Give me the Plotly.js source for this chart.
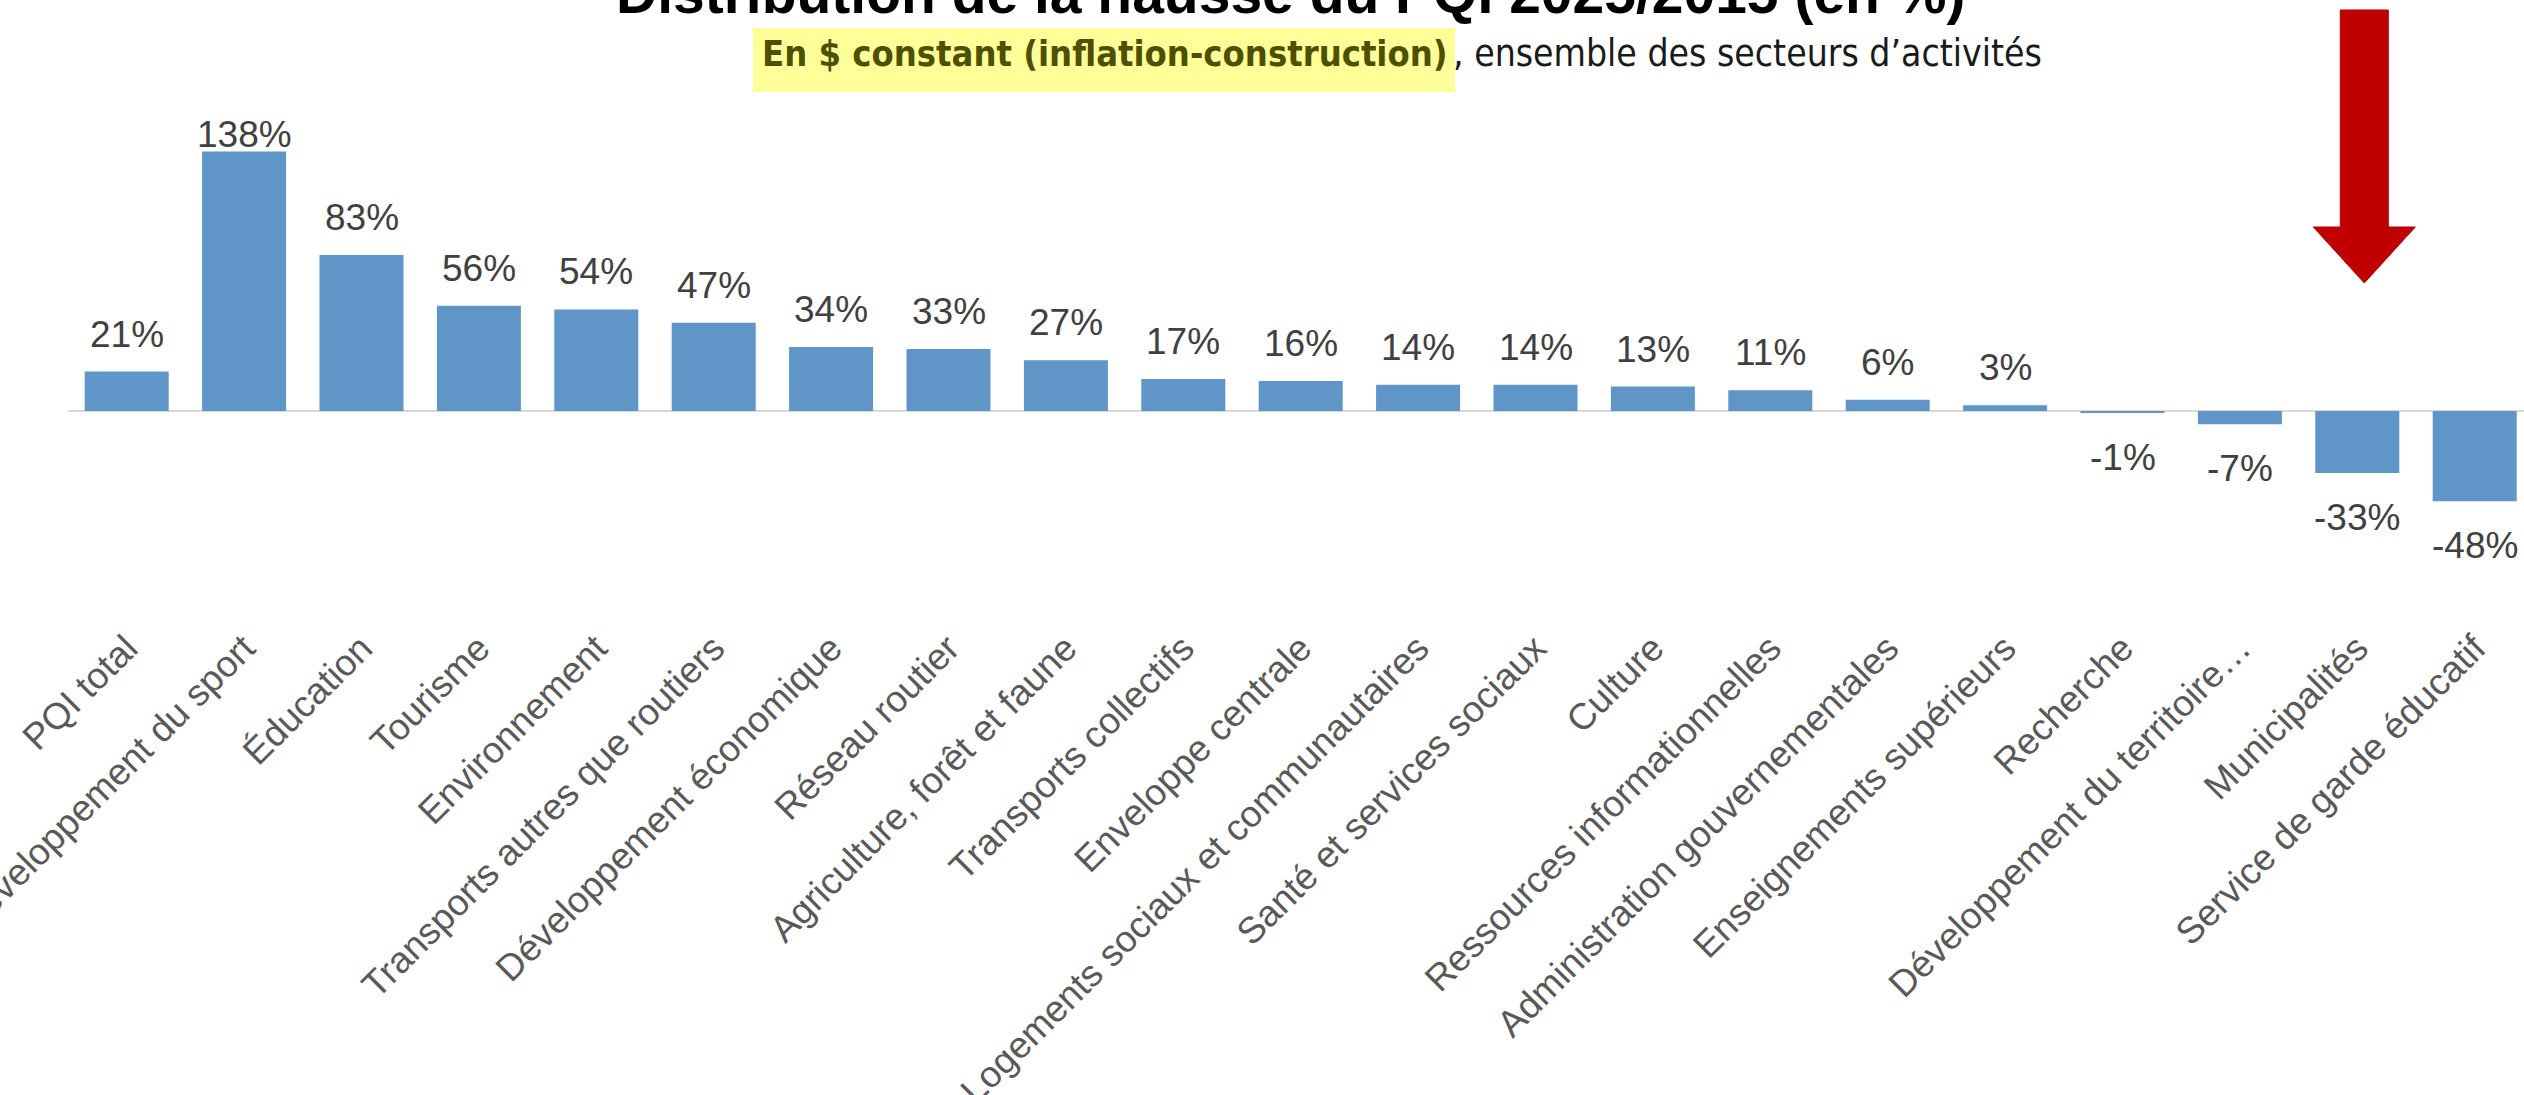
<!DOCTYPE html>
<html>
<head>
<meta charset="utf-8">
<script src="https://cdn.plot.ly/plotly-3.0.1.min.js"></script>
<style>
  html, body { margin: 0; padding: 0; background: #ffffff; }
  #chart { width: 2524px; height: 1095px; }
</style>
</head>
<body>
<div id="chart"></div>
<script>
// ---------- DATA ----------
const categories = [
  "PQI total",
  "Développement du sport",
  "Éducation",
  "Tourisme",
  "Environnement",
  "Transports autres que routiers",
  "Développement économique",
  "Réseau routier",
  "Agriculture, forêt et faune",
  "Transports collectifs",
  "Enveloppe centrale",
  "Logements sociaux et communautaires",
  "Santé et services sociaux",
  "Culture",
  "Ressources informationnelles",
  "Administration gouvernementales",
  "Enseignements supérieurs",
  "Recherche",
  "Développement du territoire…",
  "Municipalités",
  "Service de garde éducatif"
];
const values = [21, 138, 83, 56, 54, 47, 34, 33, 27, 17, 16, 14, 14, 13, 11, 6, 3, -1, -7, -33, -48];
const valueLabels = values.map(v => v + "%");

const titleText = "Distribution de la hausse du PQI 2025/2015 (en %)";
const subtitleBold = "En $ constant (inflation-construction)";
const subtitleRest = ", ensemble des secteurs d’activités";
const highlightedCategory = "Municipalités";

// ---------- LAYOUT GEOMETRY ----------
const W = 2524, H = 1095;
const M = { l: 68, r: 0, t: 100, b: 477 };
const plotW = W - M.l - M.r;
const plotH = H - M.t - M.b;
const catStep = 117.4;                 // px per category
const pxPerUnit = 1.88;                // px per percent
const zeroPx = 411;                    // zero line position (from page top)
const xRange = [-0.5, -0.5 + plotW / catStep];
const yRange = [-(M.t + plotH - zeroPx) / pxPerUnit, (zeroPx - M.t) / pxPerUnit];

const pxToPaperX = px => (px - M.l) / plotW;
const pyToPaperY = py => (M.t + plotH - py) / plotH;

const barColor = "#5F95C7";
const labelColor = "#404040";
const tickColor = "#595959";
const baseFont = "Liberation Sans, Arial, Helvetica, sans-serif";
const narrowFont = "Liberation Sans Narrow, Arial Narrow, DejaVu Sans Condensed, Liberation Sans, Arial, sans-serif";

// ---------- TRACE ----------
const trace = {
  type: "bar",
  x: categories,
  y: values,
  marker: { color: barColor, line: { width: 0 } },
  hoverinfo: "skip",
  cliponaxis: false
};

// ---------- ANNOTATIONS ----------
const annotations = [];
const labelFontSize = 37;
values.forEach((v, i) => {
  if (v >= 0) {
    const barTopPx = zeroPx - v * pxPerUnit;
    const shift = Math.min(15, barTopPx - 45 - 112);
    annotations.push({
      x: categories[i], y: v, xref: "x", yref: "y",
      text: valueLabels[i], showarrow: false,
      yanchor: "bottom", xanchor: "center", yshift: shift,
      font: { family: baseFont, size: labelFontSize, color: labelColor }
    });
  } else {
    annotations.push({
      x: categories[i], y: v, xref: "x", yref: "y",
      text: valueLabels[i], showarrow: false,
      yanchor: "top", xanchor: "center", yshift: -22,
      font: { family: baseFont, size: labelFontSize, color: labelColor }
    });
  }
});

// Title (top partly cut by page edge, as in the reference)
const titleSize = 57;
annotations.push({
  xref: "paper", yref: "paper",
  x: pxToPaperX(1290), y: pyToPaperY(13 - 0.35 * titleSize),
  xanchor: "center", yanchor: "middle",
  text: "<b>" + titleText + "</b>", showarrow: false,
  font: { family: baseFont, size: titleSize, color: "#000000" }
});

// Subtitle (bold highlighted part + regular part)
const subSize = 36;
const subCenterPx = 66 - 0.35 * subSize;
annotations.push({
  xref: "paper", yref: "paper",
  x: pxToPaperX(1450), y: pyToPaperY(subCenterPx),
  xanchor: "right", yanchor: "middle",
  text: "<b>" + subtitleBold + "</b>", showarrow: false,
  font: { family: narrowFont, size: subSize, color: "#4F4F00" }
});
annotations.push({
  xref: "paper", yref: "paper",
  x: pxToPaperX(1451), y: pyToPaperY(subCenterPx),
  xanchor: "left", yanchor: "middle",
  text: subtitleRest, showarrow: false,
  font: { family: narrowFont, size: 37, color: "#1a1a1a" }
});

// ---------- SHAPES ----------
const hiIdx = categories.indexOf(highlightedCategory);
const hiPaperX = (hiIdx - xRange[0]) / (xRange[1] - xRange[0]);
const zeroPaperY = (0 - yRange[0]) / (yRange[1] - yRange[0]);

const shapes = [
  // yellow highlight behind the bold subtitle part
  {
    type: "rect", xref: "paper", yref: "paper", layer: "below",
    x0: pxToPaperX(753), x1: pxToPaperX(1455),
    y0: pyToPaperY(92), y1: pyToPaperY(28),
    fillcolor: "#FFFF99", line: { width: 0 }
  },
  // red block arrow pointing at the highlighted category
  {
    type: "path", xref: "paper", yref: "paper",
    xsizemode: "pixel", ysizemode: "pixel",
    xanchor: hiPaperX, yanchor: zeroPaperY,
    path: "M -17,401 L 31,401 L 31,184 L 58,184 L 7,128 L -44,184 L -17,184 Z",
    fillcolor: "#C00000", line: { color: "#B00000", width: 1 }, layer: "above"
  }
];

// ---------- LAYOUT ----------
const layout = {
  width: W, height: H,
  margin: M,
  paper_bgcolor: "#ffffff",
  plot_bgcolor: "#ffffff",
  showlegend: false,
  bargap: 1 - 84 / catStep,
  xaxis: {
    type: "category",
    range: xRange,
    tickangle: -45,
    ticks: "",
    showline: false,
    showgrid: false,
    zeroline: false,
    automargin: false,
    tickfont: { family: baseFont, size: 37, color: tickColor }
  },
  yaxis: {
    range: yRange,
    showticklabels: false,
    ticks: "",
    showgrid: false,
    showline: false,
    zeroline: true,
    zerolinecolor: "#D9D9D9",
    zerolinewidth: 2,
    automargin: false
  },
  annotations: annotations,
  shapes: shapes
};

Plotly.newPlot("chart", [trace], layout, { displayModeBar: false, staticPlot: true });
</script>
</body>
</html>
